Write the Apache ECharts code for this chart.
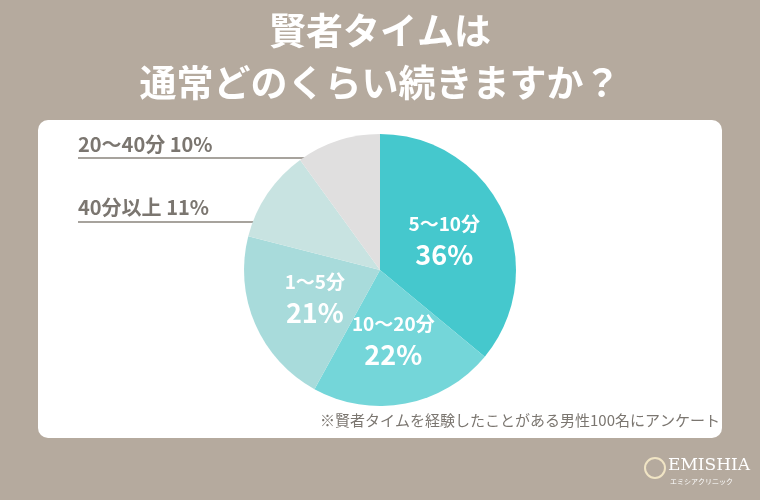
<!DOCTYPE html>
<html><head><meta charset="utf-8">
<script src="https://cdn.jsdelivr.net/npm/echarts@6/dist/echarts.min.js"></script>
<style>html,body{margin:0;padding:0;background:#b5aa9e}#c{width:760px;height:500px}</style>
</head><body><div id="c"></div>
<script>
var cats = ['5〜10分', '10〜20分', '1〜5分', '40分以上', '20〜40分']
var vals = [36, 22, 21, 11, 10]
var colors = ['#45c8cd', '#74d6d9', '#a8dbdb', '#c8e3e1', '#e0dfdf']
var font = '"Noto Sans CJK JP", sans-serif'

var chart = echarts.init(document.getElementById('c'))
var data = cats.map(function (c, i) {
  var small = i >= 3
  return {
    name: c, value: vals[i],
    itemStyle: { color: colors[i] },
    label: { show: !small }
  }
})
chart.setOption({
  backgroundColor: '#b5aa9e',
  animation: false,
  graphic: [
    { type: 'rect', shape: { x: 38, y: 120, width: 684, height: 318, r: 10 }, style: { fill: '#fff' }, z: -1 },
    { type: 'text', x: 380, y: 12, style: { text: '賢者タイムは', fill: '#fff', font: 'bold 37px ' + font, textAlign: 'center' } },
    { type: 'text', x: 380, y: 64, style: { text: '通常どのくらい続きますか？', fill: '#fff', font: 'bold 37px ' + font, textAlign: 'center' } },
    { type: 'text', x: 78, y: 134, style: { text: '20〜40分 10%', fill: '#7b7670', font: 'bold 20px ' + font } },
    { type: 'line', shape: { x1: 78, y1: 158, x2: 345, y2: 158 }, style: { stroke: '#8a847d', lineWidth: 1.5 } },
    { type: 'text', x: 78, y: 197, style: { text: '40分以上 11%', fill: '#7b7670', font: 'bold 20px ' + font } },
    { type: 'line', shape: { x1: 78, y1: 222, x2: 288, y2: 222 }, style: { stroke: '#8a847d', lineWidth: 1.5 } },
    { type: 'text', right: 40, top: 413, style: { text: '※賢者タイムを経験したことがある男性100名にアンケート', fill: '#7b7670', font: '15px ' + font } },
    { type: 'text', x: 668, y: 457, style: { text: 'EMISHIA', fill: '#fff', font: '17px "DejaVu Serif", serif' } },
    { type: 'text', x: 670, y: 478, style: { text: 'エミシアクリニック', fill: '#fff', font: '7px ' + font } },
    { type: 'circle', shape: { cx: 655, cy: 468, r: 10 }, style: { fill: 'none', stroke: '#f0e4c4', lineWidth: 2 } }
  ],
  series: [{
    type: 'pie',
    center: [380, 270],
    radius: [0, 136],
    startAngle: 90,
    clockwise: true,
    label: {
      position: 'inner',
      color: '#fff',
      fontFamily: font,
      formatter: function (p) {
        return '{a|' + p.name + '}\n{b|' + p.value + '%}'
      },
      rich: {
        a: { fontSize: 19, fontWeight: 'bold', color: '#fff', fontFamily: font, lineHeight: 30 },
        b: { fontSize: 27, fontWeight: 'bold', color: '#fff', fontFamily: font, lineHeight: 32 }
      }
    },
    labelLine: { show: false },
    data: data
  }]
})
</script></body></html>
